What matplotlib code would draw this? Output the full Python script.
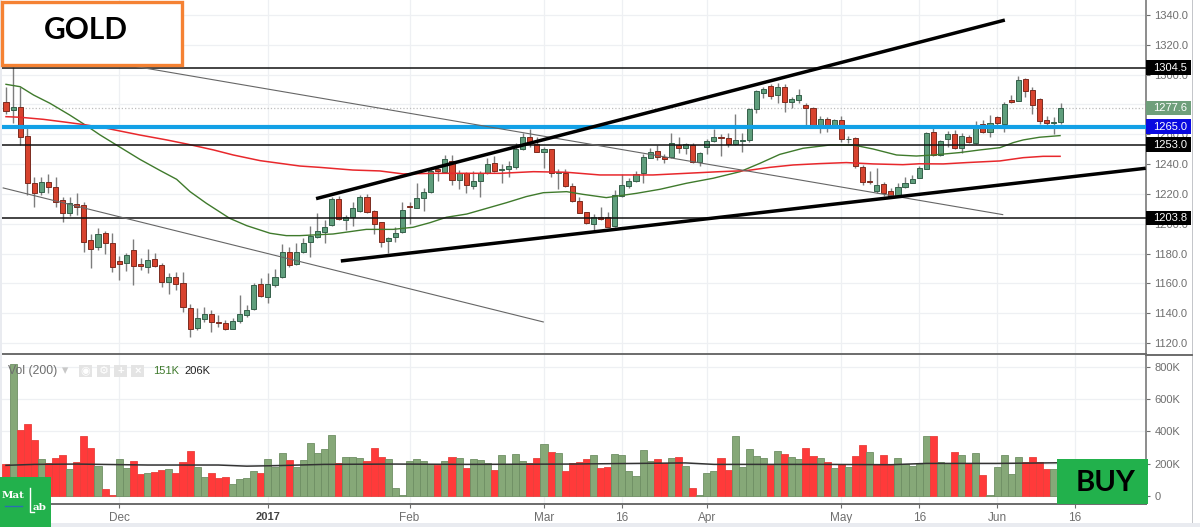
#!/usr/bin/env python
"""Gold daily candles with moving averages, drawn levels and a volume pane."""

import matplotlib
matplotlib.use('Agg')
import matplotlib.pyplot as plt
from matplotlib.patches import Rectangle
from matplotlib.lines import Line2D
from matplotlib.transforms import blended_transform_factory

plt.rcParams['font.family'] = ['Liberation Sans', 'DejaVu Sans']

opens = [1281.9, 1276.3, 1278.5, 1258.8, 1227.5, 1221.5, 1228.2, 1224.9, 1215.9, 1207.0,
         1213.0, 1212.3, 1189.1, 1184.2, 1193.6, 1187.3, 1175.0, 1173.9, 1182.6, 1173.0,
         1171.2, 1176.4, 1172.3, 1160.9, 1164.0, 1160.0, 1143.7, 1130.1, 1135.9, 1139.5,
         1134.1, 1133.4, 1129.6, 1135.0, 1139.0, 1142.8, 1159.4, 1151.1, 1159.1, 1164.5,
         1181.0, 1172.8, 1180.8, 1187.5, 1191.1, 1194.2, 1199.2, 1216.6, 1202.7, 1204.5,
         1208.8, 1218.2, 1208.3, 1200.9, 1188.2, 1190.9, 1194.5, 1212.1, 1210.8, 1217.5,
         1221.5, 1236.5, 1234.7, 1242.3, 1229.3, 1234.0, 1225.5, 1228.4, 1233.8, 1240.5,
         1235.8, 1236.7, 1237.8, 1250.4, 1258.4, 1253.3, 1248.3, 1249.9, 1234.3, 1233.8,
         1225.3, 1215.3, 1207.7, 1199.8, 1204.5, 1204.3, 1198.7, 1218.6, 1225.5, 1228.7,
         1233.8, 1244.3, 1248.6, 1245.0, 1244.8, 1253.0, 1250.6, 1253.0, 1241.2, 1251.7,
         1255.3, 1258.2, 1257.3, 1253.5, 1255.5, 1256.2, 1276.7, 1287.9, 1292.4, 1286.3,
         1291.5, 1281.7, 1283.0, 1279.9, 1277.8, 1265.6, 1270.5, 1265.6, 1269.6, 1256.6,
         1257.3, 1238.3, 1228.4, 1222.2, 1226.7, 1221.9, 1218.8, 1224.6, 1227.5, 1230.9,
         1236.9, 1261.5, 1246.1, 1257.1, 1260.2, 1251.0, 1257.9, 1254.4, 1266.7, 1261.8,
         1271.8, 1266.9, 1282.8, 1282.6, 1297.0, 1289.5, 1283.7, 1269.6, 1267.3, 1268.0]
closes = [1275.8, 1278.1, 1258.4, 1227.1, 1220.4, 1228.2, 1224.4, 1214.8, 1207.0, 1213.7,
          1211.2, 1188.0, 1183.1, 1193.1, 1187.3, 1171.2, 1173.2, 1179.0, 1171.9, 1171.4,
          1175.6, 1171.9, 1161.2, 1164.0, 1159.8, 1143.9, 1129.6, 1136.8, 1139.7, 1133.9,
          1133.2, 1129.6, 1134.8, 1139.7, 1142.4, 1158.7, 1151.5, 1159.4, 1164.0, 1181.0,
          1172.5, 1181.0, 1187.3, 1191.8, 1194.9, 1197.6, 1216.6, 1203.2, 1204.3, 1210.3,
          1218.2, 1207.9, 1199.8, 1187.5, 1190.4, 1194.0, 1209.0, 1211.5, 1217.3, 1221.3,
          1235.6, 1235.6, 1243.2, 1229.1, 1234.3, 1225.8, 1228.9, 1234.3, 1239.8, 1235.6,
          1236.5, 1238.5, 1250.4, 1258.2, 1254.4, 1248.3, 1250.4, 1234.3, 1234.7, 1225.1,
          1215.5, 1207.4, 1200.7, 1204.3, 1203.2, 1198.0, 1219.0, 1226.0, 1228.9, 1233.6,
          1244.5, 1248.3, 1245.0, 1243.2, 1253.9, 1251.0, 1253.3, 1241.2, 1247.2, 1255.3,
          1257.9, 1257.5, 1253.5, 1256.2, 1256.2, 1276.7, 1288.8, 1290.4, 1285.9, 1291.5,
          1281.9, 1283.4, 1286.3, 1277.8, 1265.8, 1270.5, 1265.6, 1269.8, 1257.0, 1257.0,
          1238.5, 1228.0, 1227.8, 1226.0, 1220.8, 1218.6, 1224.6, 1227.5, 1230.2, 1237.2,
          1260.6, 1246.1, 1255.3, 1260.2, 1250.6, 1258.8, 1255.0, 1266.2, 1261.3, 1267.8,
          1267.8, 1280.1, 1281.6, 1296.4, 1289.2, 1279.6, 1268.9, 1267.3, 1268.2, 1277.6]
highs = [1291.5, 1305.3, 1291.9, 1264.0, 1231.6, 1231.6, 1233.4, 1231.1, 1217.7, 1217.7,
         1220.8, 1214.8, 1192.9, 1196.9, 1195.1, 1193.6, 1178.4, 1180.6, 1190.0, 1176.8,
         1182.8, 1180.6, 1173.4, 1167.2, 1167.9, 1167.9, 1146.2, 1143.3, 1144.4, 1142.1,
         1138.8, 1135.4, 1136.6, 1152.2, 1145.5, 1160.5, 1163.8, 1166.7, 1169.4, 1186.2,
         1184.6, 1186.9, 1190.2, 1198.5, 1207.0, 1202.5, 1217.7, 1218.6, 1205.9, 1214.8,
         1219.3, 1219.9, 1209.2, 1201.4, 1191.3, 1198.0, 1214.4, 1214.8, 1227.6, 1223.7,
         1236.5, 1239.4, 1246.1, 1245.9, 1236.0, 1234.9, 1235.6, 1235.6, 1243.9, 1245.4,
         1240.1, 1242.3, 1253.9, 1260.6, 1263.8, 1258.4, 1251.7, 1250.4, 1236.5, 1236.9,
         1227.6, 1218.2, 1208.1, 1206.5, 1211.5, 1208.1, 1222.6, 1233.4, 1230.5, 1235.4,
         1246.8, 1250.6, 1252.8, 1246.8, 1261.1, 1258.0, 1254.4, 1253.9, 1248.3, 1256.6,
         1263.3, 1260.2, 1260.6, 1273.4, 1260.6, 1277.8, 1289.7, 1291.9, 1293.7, 1294.2,
         1293.7, 1284.8, 1290.4, 1280.8, 1278.5, 1272.3, 1271.8, 1270.0, 1272.3, 1258.8,
         1258.0, 1239.2, 1235.6, 1237.2, 1228.2, 1223.8, 1227.1, 1231.6, 1232.7, 1238.9,
         1261.7, 1264.0, 1256.2, 1262.4, 1262.9, 1260.6, 1259.5, 1269.1, 1269.6, 1272.9,
         1272.3, 1281.9, 1286.3, 1299.0, 1297.5, 1291.5, 1284.1, 1272.5, 1271.4, 1281.2]
lows = [1273.6, 1267.8, 1252.8, 1219.3, 1211.5, 1219.3, 1220.8, 1211.0, 1201.4, 1205.2,
        1205.9, 1181.3, 1170.5, 1182.4, 1179.5, 1167.9, 1162.3, 1168.5, 1158.9, 1169.0,
        1167.2, 1171.2, 1157.3, 1152.7, 1155.6, 1140.6, 1124.3, 1128.7, 1134.3, 1127.6,
        1131.0, 1128.7, 1129.2, 1133.2, 1137.7, 1142.1, 1150.7, 1146.6, 1157.8, 1163.4,
        1171.2, 1172.3, 1180.2, 1177.5, 1190.2, 1187.3, 1198.5, 1202.5, 1195.8, 1198.5,
        1208.1, 1207.0, 1193.1, 1184.2, 1180.2, 1188.0, 1193.6, 1199.8, 1210.3, 1208.8,
        1220.8, 1228.9, 1233.8, 1226.2, 1223.1, 1220.4, 1223.1, 1217.7, 1233.4, 1234.9,
        1227.1, 1231.6, 1236.9, 1249.5, 1251.7, 1247.9, 1237.2, 1231.1, 1223.1, 1224.9,
        1214.8, 1207.0, 1199.8, 1195.8, 1202.5, 1197.6, 1198.0, 1218.2, 1223.8, 1228.0,
        1227.1, 1243.8, 1242.8, 1240.5, 1244.3, 1247.7, 1246.8, 1240.7, 1238.7, 1246.8,
        1254.8, 1245.4, 1251.7, 1252.8, 1248.1, 1255.0, 1274.0, 1284.6, 1283.4, 1280.8,
        1275.2, 1277.8, 1281.2, 1266.2, 1265.1, 1261.1, 1261.8, 1265.1, 1255.0, 1253.9,
        1237.2, 1226.0, 1226.7, 1220.8, 1218.6, 1217.7, 1218.2, 1223.8, 1227.1, 1230.5,
        1236.5, 1245.7, 1245.4, 1251.7, 1250.1, 1247.7, 1254.4, 1253.5, 1260.6, 1258.4,
        1265.1, 1261.8, 1280.8, 1282.1, 1285.2, 1273.6, 1266.9, 1265.6, 1260.2, 1266.9]

volumes = [196, 820, 412, 445, 350, 231, 202, 237, 256, 167,
           210, 369, 299, 188, 41, 4, 231, 173, 219, 136,
           142, 148, 161, 167, 140, 210, 282, 181, 118, 142,
           111, 118, 72, 103, 109, 155, 142, 231, 181, 268,
           225, 181, 225, 326, 268, 289, 381, 204, 243, 243,
           237, 219, 299, 243, 231, 47, 4, 216, 231, 219,
           198, 194, 216, 243, 237, 173, 231, 225, 204, 161,
           256, 198, 262, 219, 204, 237, 320, 274, 268, 155,
           204, 210, 231, 256, 173, 179, 262, 256, 155, 124,
           287, 219, 231, 202, 237, 243, 186, 47, 8, 140,
           155, 237, 161, 375, 179, 293, 247, 237, 194, 280,
           262, 243, 231, 299, 247, 237, 210, 173, 198, 179,
           247, 318, 274, 198, 256, 194, 237, 198, 186, 198,
           375, 369, 210, 204, 274, 256, 202, 268, 130, 4,
           179, 256, 134, 243, 210, 243, 210, 167, 167, 151]
vol_colors = ("rgrrrgrrrg" "rrrgrrggrr" "grrgrrrggr" "rrggggrggg" "rggggggrgg"
              "grrrgggggg" "grgrgrgggr" "ggggrrgrgr" "rrrgrrgggg" "ggrrgrgrgg"
              "grrgggggrg" "rggrrgrgrg" "rrgrrrgggg" "grggrgrgrg" "ggggrrrrgg")

# moving averages at the bends: bar index, value
ma_green_x = [0, 2, 3.9, 6.2, 9, 11.4, 13.3, 15.6, 18.9, 21.8, 24.1, 26, 28.3, 31.6, 34, 37.3, 39.6, 41.5,
              46.2, 50.9, 54.7, 57.5, 59.9, 62.2, 65.1, 67.9, 70.7, 73.5, 75.9, 79.2, 81.5, 84.8,
              89.1, 92.4, 96.1, 99.9, 103.7, 106.5, 109.3, 112.6, 116.4, 119.7, 122.5, 125.8, 128.6,
              131, 134.7, 137.6, 140.4, 142.3, 143.7, 146, 148.9]
ma_green_y = [1293.5, 1291.9, 1286.3, 1280.8, 1272.9, 1265.6, 1259.5, 1252.8, 1243.2, 1235.6, 1229.8, 1221.5,
              1213.7, 1203.6, 1198.7, 1193.6, 1192.0, 1192.0, 1193.1, 1196.2, 1196.2, 1197.6, 1200.7, 1204.3,
              1206.5, 1210.3, 1214.1, 1218.2, 1220.8, 1221.5, 1219.7, 1217.5, 1220.4, 1223.1, 1227.1, 1230.5,
              1234.9, 1240.5, 1246.5, 1250.6, 1252.8, 1252.8, 1250.1, 1246.1, 1245.4, 1246.1, 1247.7, 1249.5,
              1251.0, 1254.4, 1256.2, 1258.0, 1259.1]
ma_red_x = [0, 2, 5.3, 8.6, 11.4, 14.2, 18.9, 22.7, 25.5, 29.3, 32.1, 35.9, 41.5, 44.3, 49, 52.8, 56.1, 60.4,
            65.1, 69.8, 74.5, 79.2, 83.9, 86.7, 91.4, 96.1, 100.8, 104.6, 107.9, 111.2, 114.9, 118.7, 122.5,
            126.7, 129, 132.4, 135.7, 140.4, 143.7, 146.5, 148.9]
ma_red_y = [1271.8, 1271.4, 1270.0, 1268.0, 1266.2, 1264.0, 1259.5, 1256.2, 1253.5, 1249.5, 1246.1, 1242.3,
            1238.7, 1237.8, 1236.0, 1235.4, 1233.4, 1233.8, 1233.8, 1233.8, 1234.9, 1234.5, 1232.7, 1232.7,
            1232.7, 1233.8, 1234.9, 1235.6, 1237.8, 1239.4, 1240.3, 1241.0, 1240.1, 1239.6, 1240.2, 1240.1,
            1241.0, 1242.1, 1244.3, 1245.2, 1245.2]
vol_ma_x = [0, 4, 10, 20, 30, 34, 38, 45, 55, 65, 80, 96, 100, 115, 125, 130, 140, 149]
vol_ma_y = [190, 196, 198, 192, 192, 185, 188, 196, 198, 196, 198, 205, 196, 196, 194, 202, 202, 206]

date_ticks = [16, 37, 57, 76, 87, 99, 118, 129, 140, 151]
date_labels = ['Dec', '2017', 'Feb', 'Mar', '16', 'Apr', 'May', '16', 'Jun', '16']
price_ticks = list(range(1120, 1341, 20))
hidden_price_labels = [1280]  # fully under the last price tag in the original
vol_ticks = [0, 200, 400, 600, 800]
vol_labels = ['0', '200K', '400K', '600K', '800K']

# horizontal levels and the tags on the price scale
levels = [1304.5, 1253.0, 1203.8]
blue_level = 1265.0
last_price = 1277.6

# drawn trendlines: (bar, price), (bar, price)
thick_lines = [((43.8, 1216.8), (141.1, 1336.6)), ((47.3, 1175.0), (161.0, 1237.2))]
thin_lines = [((18.5, 1305.3), (140.8, 1206.1)), ((-0.4, 1224.0), (75.9, 1134.1))]

W, H = 1200, 527
GREY = '#6e6e6e'


def px_box(x0, y0, x1, y1):
    """Axes rectangle from pixel edges, y counted from the top."""
    return [x0 / W, 1 - y1 / H, (x1 - x0) / W, (y1 - y0) / H]


def px_text(fig, x, y, s, **kw):
    kw.setdefault('ha', 'center')
    kw.setdefault('va', 'center')
    fig.text(x / W, 1 - y / H, s, **kw)


def px_rect(fig, x0, y0, x1, y1, **kw):
    kw.setdefault('linewidth', 0)
    fig.add_artist(Rectangle((x0 / W, 1 - y1 / H), (x1 - x0) / W, (y1 - y0) / H,
                             transform=fig.transFigure, **kw))


def px_line(fig, xs, ys, **kw):
    fig.add_artist(Line2D([x / W for x in xs], [1 - y / H for y in ys],
                          transform=fig.transFigure, **kw))


fig = plt.figure(figsize=(W / 100, H / 100), dpi=100)
ax = fig.add_axes(px_box(2, 0, 1146, 354))
ax_vol = fig.add_axes(px_box(2, 355, 1146, 504))

# Top panel: candles
x_bars = list(range(len(opens)))
ax.vlines(x_bars, lows, highs, color='#7d7d7d', linewidth=1.0, zorder=3)
bottoms = [min(o, c) for o, c in zip(opens, closes)]
heights = [max(abs(c - o), 0.5) for o, c in zip(opens, closes)]
fills = ['#5f9e7c' if c >= o else '#d8432e' for o, c in zip(opens, closes)]
edges = ['#35604a' if c >= o else '#7c2c20' for o, c in zip(opens, closes)]
ax.bar(x_bars, heights, bottom=bottoms, width=0.72, color=fills, edgecolor=edges, linewidth=0.7, zorder=4)

ax.plot(ma_green_x, ma_green_y, color='#3f7a2c', linewidth=1.0, zorder=5)
ax.plot(ma_red_x, ma_red_y, color='#e8282c', linewidth=1.1, zorder=5)

for lvl in levels:
    ax.axhline(lvl, color='#111111', linewidth=1.1, zorder=6)
ax.axhline(last_price, color='#bdbdbd', linewidth=0.9, linestyle=':', zorder=2)
ax.axhline(blue_level, color='#12a0e6', linewidth=3.0, zorder=6)
for p0, p1 in thin_lines:
    ax.plot([p0[0], p1[0]], [p0[1], p1[1]], color='#666666', linewidth=0.8, zorder=6)
for p0, p1 in thick_lines:
    ax.plot([p0[0], p1[0]], [p0[1], p1[1]], color='black', linewidth=2.5, zorder=7,
            solid_capstyle='butt')

ax.set_xlim(-0.565, 161.04)
ax.set_ylim(1112.6, 1350.06)
ax.set_xticks(date_ticks)
ax.set_yticks(price_ticks)
ax.set_yticklabels(['' if p in hidden_price_labels else f'{p:.1f}' for p in price_ticks])
ax.yaxis.tick_right()
ax.tick_params(axis='x', length=0, labelbottom=False)
ax.tick_params(axis='y', length=3, width=0.8, color=GREY, labelcolor=GREY, labelsize=8, pad=3)
ax.grid(True, color='#eef0f3', linewidth=0.9)
ax.set_axisbelow(True)

# price tags on the scale
trans = blended_transform_factory(ax.transAxes, ax.transData)
tags = [(lvl, 'black') for lvl in levels] + [(last_price, '#6f9f7b'), (blue_level, '#0a0ae0')]
for val, col in tags:
    ax.add_patch(Rectangle((1.0, val - 5.0), 0.0395, 10.0, transform=trans, facecolor=col,
                           edgecolor='none', clip_on=False, zorder=8))
    ax.text(1.006, val, f'{val:.1f}', transform=trans, color='white', fontsize=8,
            va='center', ha='left', clip_on=False, zorder=9)

# Bottom panel: volume
bar_cols = ['#ff3a3a' if c == 'r' else '#86a878' for c in vol_colors]
bar_edges = ['#e8403c' if c == 'r' else '#6f8f64' for c in vol_colors]
ax_vol.bar(x_bars, volumes, width=1.0, color=bar_cols, edgecolor=bar_edges, linewidth=0.6, zorder=3)
ax_vol.plot(vol_ma_x, vol_ma_y, color='#333333', linewidth=1.1, zorder=4)
ax_vol.set_xlim(-0.565, 161.04)
ax_vol.set_ylim(-49.6, 874)
ax_vol.set_xticks(date_ticks)
ax_vol.set_xticklabels(date_labels)
ax_vol.set_yticks(vol_ticks)
ax_vol.set_yticklabels(vol_labels)
ax_vol.yaxis.tick_right()
ax_vol.tick_params(axis='x', length=3, width=0.8, color=GREY, labelcolor=GREY, labelsize=8.5, pad=2.5)
ax_vol.tick_params(axis='y', length=3, width=0.8, color=GREY, labelcolor=GREY, labelsize=8, pad=3)
ax_vol.grid(True, color='#eef0f3', linewidth=0.9)
ax_vol.set_axisbelow(True)
ax_vol.get_xticklabels()[1].set_fontweight('bold')
ax_vol.get_xticklabels()[1].set_color('#444444')
ax_vol.get_xticklabels()[1].set_fontsize(8)

for a in (ax, ax_vol):
    a.spines['left'].set_visible(False)
    a.spines['top'].set_visible(False)
    a.spines['right'].set_color('#8c8c8c')
    a.spines['right'].set_linewidth(1.4)
    a.spines['bottom'].set_color('#6b6b6b')
    a.spines['bottom'].set_linewidth(1.4)

# window frame
px_rect(fig, 0, 523, W, H, facecolor='#e9ebf0')
px_rect(fig, 1192, 0, 1193, 523, facecolor='#c4c6ca')
px_rect(fig, 0, 0, 2, 523, facecolor='#e9ebf0')
px_line(fig, [1146, 1192], [354.5, 354.5], color='#6b6b6b', linewidth=1.4)

# volume legend row
px_text(fig, 8, 371, 'Vol (200)', color=GREY, fontsize=8.8, ha='left')
px_text(fig, 65, 371, '▾', color='#c8c8c8', fontsize=9)
for x0, glyph in zip([79, 97, 114, 131], ['◉', '⚙', '+', '×']):
    px_rect(fig, x0, 365, x0 + 13, 377, facecolor='#e4e4e4')
    px_text(fig, x0 + 6.5, 371, glyph, color='white', fontsize=8, fontweight='bold')
px_text(fig, 153, 371, '151K', color='#3f7a2c', fontsize=8, ha='left')
px_text(fig, 184, 371, '206K', color='#222222', fontsize=8, ha='left')

# pasted-on labels
px_rect(fig, 1.5, 1.5, 182, 65, facecolor='white', edgecolor='#f58233', linewidth=2.4)
px_text(fig, 86, 30, 'GOLD', family=['Lato', 'DejaVu Sans'], fontweight='bold', fontsize=21.5, color='black')
px_rect(fig, 1057, 459, 1148, 504, facecolor='#22b14c')
px_text(fig, 1106, 483, 'BUY', family=['Lato', 'DejaVu Sans'], fontweight='bold', fontsize=21, color='black')
px_rect(fig, 0, 477, 51, H, facecolor='#22b14c')
px_text(fig, 2, 495, 'Mat', family=['DejaVu Serif'], fontweight='bold', fontsize=7.5, color='white', ha='left')
px_text(fig, 33, 508, 'ab', family=['DejaVu Serif'], fontweight='bold', fontsize=7.5, color='white', ha='left')
px_line(fig, [30, 30, 34], [488, 512, 512], color='white', linewidth=1.0)
px_line(fig, [5, 22], [506, 506], color='#2a6fb0', linewidth=1.0)

fig.savefig('out.png', dpi=100)
